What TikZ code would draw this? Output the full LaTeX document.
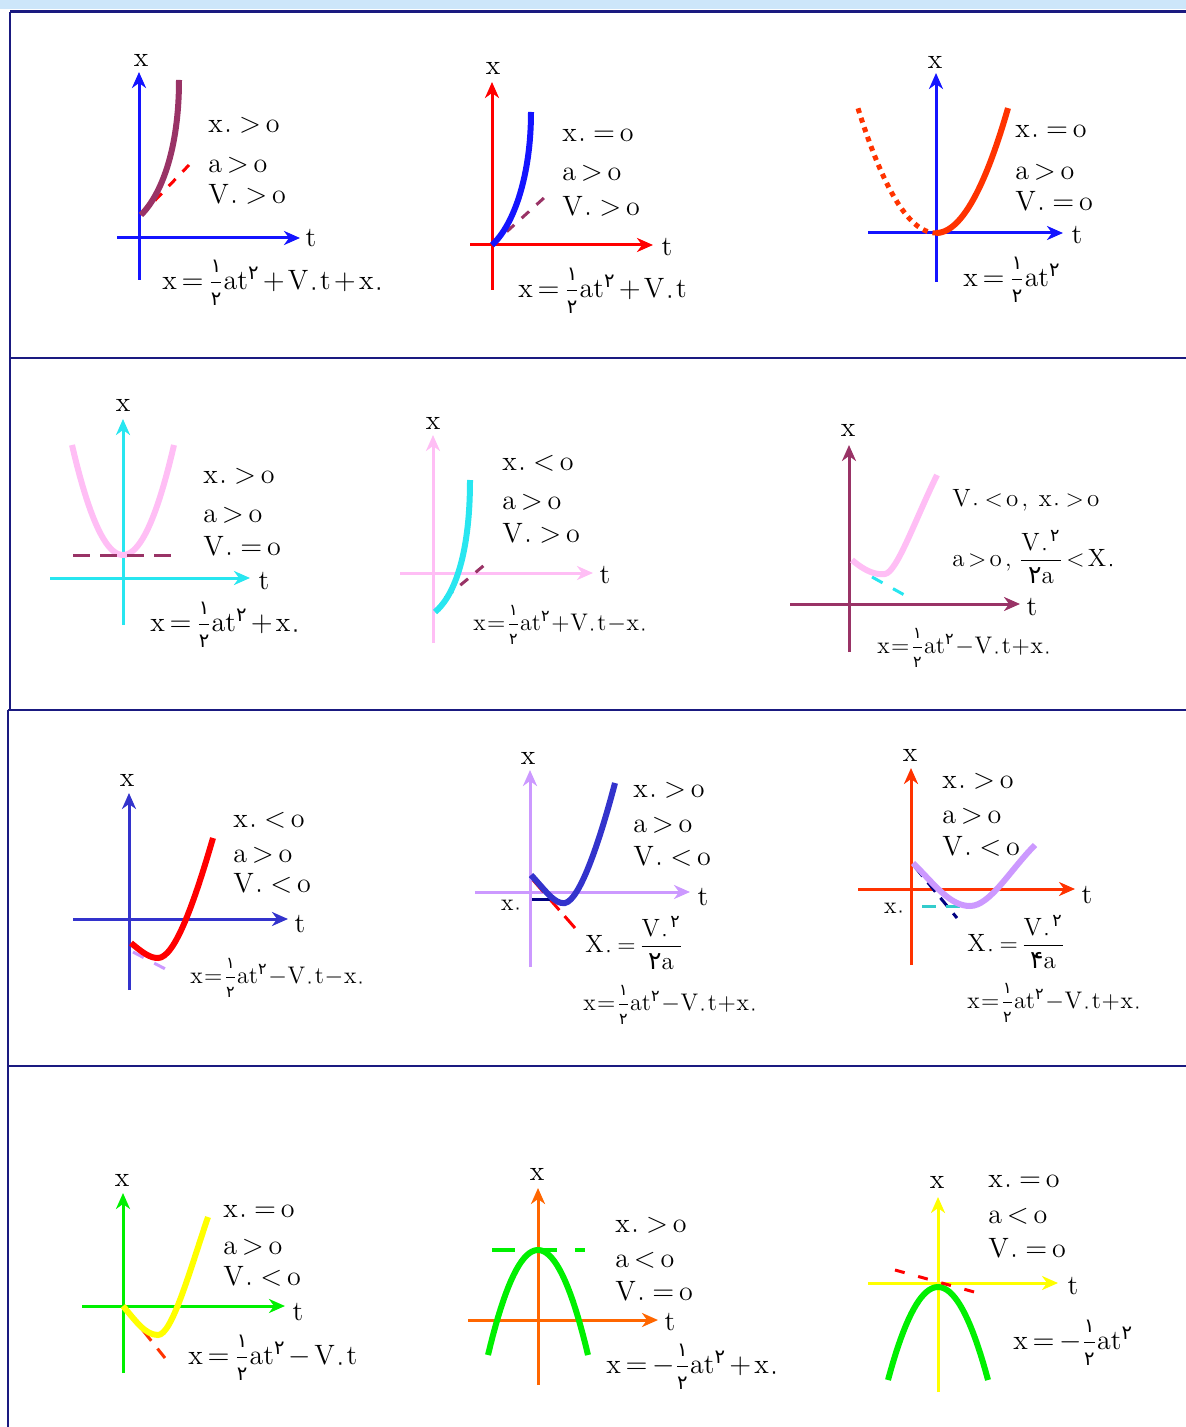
\documentclass[tikz,border=0pt]{standalone}
\usepackage{amsmath}
\usepackage{fontspec}
\usepackage{xcolor}
\usetikzlibrary{arrows.meta}

\newfontfamily\fa[Script=Arabic]{DejaVu Sans}
\newcommand\fd[1]{\text{\fa #1}}
\newcommand\hf{\frac{\text{\fa\raisebox{3pt}{۱}}}{\text{\fa\raisebox{-3pt}{۲}}}}
\newcommand\zs{_{\fd{۰}}}
\newcommand\sq{^{\fd{۲}}}
\protected\def\mspA{\thickmuskip=3mu\relax\medmuskip=2mu\relax}
\protected\def\mspB{\thickmuskip=2.5mu\relax\medmuskip=1.5mu\relax}
\protected\def\mspC{\thickmuskip=1mu\relax\medmuskip=0.5mu\relax}

\definecolor{frame}{RGB}{26,26,128}
\definecolor{band}{RGB}{205,230,250}
\definecolor{maroon}{RGB}{153,51,102}
\definecolor{pblue}{RGB}{20,20,255}
\definecolor{pred}{RGB}{255,0,0}
\definecolor{ored}{RGB}{255,51,0}
\definecolor{pcyan}{RGB}{40,230,240}
\definecolor{ppink}{RGB}{255,190,245}
\definecolor{indig}{RGB}{51,51,204}
\definecolor{lav}{RGB}{204,153,255}
\definecolor{pgreen}{RGB}{0,240,0}
\definecolor{pyell}{RGB}{255,255,0}
\definecolor{orng}{RGB}{255,102,0}
\definecolor{teal2}{RGB}{51,204,204}
\definecolor{navy2}{RGB}{0,0,128}

\begin{document}
\begin{tikzpicture}[
  x=0.5pt, y=-0.5pt,
  font=\fontsize{14}{16}\selectfont,
  ax/.style={line width=1.5pt, -{Stealth[length=8pt,width=7pt,inset=2.5pt]}},
  crv/.style={line width=3pt},
  tng/.style={line width=1.5pt, dash pattern=on 5pt off 5pt},
  lbl/.style={inner sep=0pt},
  cond/.style={anchor=west, inner sep=0pt, font=\fontsize{14}{16}\selectfont\mspA},
  scond/.style={anchor=west, inner sep=0pt, font=\fontsize{12.5}{15}\selectfont\mspB},
  eqn/.style={anchor=west, inner sep=0pt, font=\fontsize{14}{16}\selectfont\mspA},
  seqn/.style={anchor=west, inner sep=0pt, font=\fontsize{12}{14}\selectfont\mspC},
  rule/.style={draw=frame, line width=0.8pt},
]
\useasboundingbox (0,0) rectangle (1186,1427);

%% ---- Frame ----
\fill[band] (0,0) rectangle (1186,9);
\draw[frame, line width=1.5pt] (10,12) -- (1186,12);
\draw[rule] (10,12) -- (10,710);
\draw[rule] (8,710) -- (8,1427);
\draw[rule] (10,358) -- (1186,358);
\draw[rule] (8,710) -- (1186,710);
\draw[rule] (8,1066) -- (1186,1066);

%% ---- Graph 1 ----
\draw[ax, pblue] (117,238) -- (300,238);
\draw[ax, pblue] (139,280) -- (139,72);
\node[lbl] (g1x) at (141,60) {x};
\node[lbl] (g1t) at (311,238) {t};
\draw[tng, pred] (141,215) -- (189,165);
\draw[crv, maroon] (141,215) .. controls (161,195) and (179,150) .. (179,80);
\node[cond] (g1c1) at (208,127) {$\mathrm{x}\zs>\mathrm{o}$};
\node[cond] (g1c2) at (208,165) {$\mathrm{a}>\mathrm{o}$};
\node[cond] (g1c3) at (208,196) {$\mathrm{V}\zs>\mathrm{o}$};
\node[eqn] (g1eq) at (162,283)
  {$\mathrm{x}=\hf\mathrm{at}\sq+\mathrm{V}\zs\mathrm{t}+\mathrm{x}\zs$};

%% ---- Graph 2 ----
\draw[ax, pred] (470,245) -- (653,245);
\draw[ax, pred] (492,290) -- (492,82);
\node[lbl] (g2x) at (493,68) {x};
\node[lbl] (g2t) at (667,247) {t};
\draw[tng, maroon] (492,245) -- (545,197);
\draw[crv, pblue] (492,245) .. controls (514,225) and (531,175) .. (531,112);
\node[cond] (g2c1) at (562,137) {$\mathrm{x}\zs=\mathrm{o}$};
\node[cond] (g2c2) at (562,173) {$\mathrm{a}>\mathrm{o}$};
\node[cond] (g2c3) at (562,208) {$\mathrm{V}\zs>\mathrm{o}$};
\node[eqn] (g2eq) at (518,291)
  {$\mathrm{x}=\hf\mathrm{at}\sq+\mathrm{V}\zs\mathrm{t}$};

%% ---- Graph 3 ----
\draw[ax, pblue] (868,233) -- (1063,233);
\draw[ax, pblue] (936,282) -- (936,73);
\node[lbl] (g3x) at (935,62) {x};
\node[lbl] (g3t) at (1077,235) {t};
\draw[ored, line width=2.5pt, dash pattern=on 2.5pt off 2.5pt]
  plot[domain=-78:0, samples=40] ({936+\x},{233-0.0205*\x*\x});
\draw[crv, ored] plot[domain=0:72, samples=40] ({936+\x},{233-0.0241*\x*\x});
\node[cond] (g3c1) at (1015,133) {$\mathrm{x}\zs=\mathrm{o}$};
\node[cond] (g3c2) at (1015,172) {$\mathrm{a}>\mathrm{o}$};
\node[cond] (g3c3) at (1015,203) {$\mathrm{V}\zs=\mathrm{o}$};
\node[eqn] (g3eq) at (963,280) {$\mathrm{x}=\hf\mathrm{at}\sq$};

%% ---- Graph 4 ----
\draw[ax, pcyan] (50,578) -- (250,578);
\draw[ax, pcyan] (123,625) -- (123,419);
\node[lbl] (g4x) at (123,405) {x};
\node[lbl] (g4t) at (264,581) {t};
\draw[crv, ppink] plot[domain=-51:51, samples=40] ({123+\x},{555-0.0423*\x*\x});
\draw[maroon, line width=1.5pt, dash pattern=on 8.5pt off 5pt] (73,555) -- (175,555);
\node[cond] (g4c1) at (203,478) {$\mathrm{x}\zs>\mathrm{o}$};
\node[cond] (g4c2) at (203,515) {$\mathrm{a}>\mathrm{o}$};
\node[cond] (g4c3) at (203,548) {$\mathrm{V}\zs=\mathrm{o}$};
\node[eqn] (g4eq) at (150,625) {$\mathrm{x}=\hf\mathrm{at}\sq+\mathrm{x}\zs$};

%% ---- Graph 5 ----
\draw[ax, ppink] (400,573) -- (593,573);
\draw[ax, ppink] (433,643) -- (433,435);
\node[lbl] (g5x) at (433,423) {x};
\node[lbl] (g5t) at (605,575) {t};
\draw[tng, maroon] (445,598) -- (488,562);
\draw[crv, pcyan] (435,612) .. controls (452,598) and (470,560) .. (470,480);
\node[cond] (g5c1) at (502,465) {$\mathrm{x}\zs<\mathrm{o}$};
\node[cond] (g5c2) at (502,502) {$\mathrm{a}>\mathrm{o}$};
\node[cond] (g5c3) at (502,535) {$\mathrm{V}\zs>\mathrm{o}$};
\node[seqn] (g5eq) at (473,625)
  {$\mathrm{x}=\hf\mathrm{at}\sq+\mathrm{V}\zs\mathrm{t}-\mathrm{x}\zs$};

%% ---- Graph 6 ----
\draw[ax, maroon] (790,604) -- (1020,604);
\draw[ax, maroon] (849,652) -- (849,445);
\node[lbl] (g6x) at (848,430) {x};
\node[lbl] (g6t) at (1032,607) {t};
\draw[pcyan, line width=1.5pt, dash pattern=on 6pt off 6pt] (872,577) -- (908,597);
\draw[crv, ppink] (852,560) .. controls (866,572) and (876,575) .. (885,574)
  .. controls (897,572) and (915,520) .. (937,475);
\node[scond] (g6c1) at (952,500) {$\mathrm{V}\zs<\mathrm{o}\;,\;\;\mathrm{x}\zs>\mathrm{o}$};
\node[scond] (g6c2) at (952,557)
  {$\mathrm{a}>\mathrm{o}\;,\;\dfrac{\mathrm{V}\zs{}\sq}{\fd{۲}\mathrm{a}}<\mathrm{X}\zs$};
\node[seqn] (g6eq) at (877,648)
  {$\mathrm{x}=\hf\mathrm{at}\sq-\mathrm{V}\zs\mathrm{t}+\mathrm{x}\zs$};

%% ---- Graph 7 ----
\draw[ax, indig] (73,919) -- (288,919);
\draw[ax, indig] (129,990) -- (129,793);
\node[lbl] (g7x) at (127,780) {x};
\node[lbl] (g7t) at (300,924) {t};
\draw[lav, line width=1.5pt, dash pattern=on 6pt off 6pt] (133,952) -- (173,973);
\draw[crv, pred] (131,943) .. controls (143,953) and (150,958) .. (158,958)
  .. controls (175,958) and (195,900) .. (213,838);
\node[cond] (g7c1) at (233,822) {$\mathrm{x}\zs<\mathrm{o}$};
\node[cond] (g7c2) at (233,855) {$\mathrm{a}>\mathrm{o}$};
\node[cond] (g7c3) at (233,885) {$\mathrm{V}\zs<\mathrm{o}$};
\node[seqn] (g7eq) at (190,978)
  {$\mathrm{x}=\hf\mathrm{at}\sq-\mathrm{V}\zs\mathrm{t}-\mathrm{x}\zs$};

%% ---- Graph 8 ----
\draw[ax, lav] (475,892) -- (690,892);
\draw[ax, lav] (530,967) -- (530,770);
\node[lbl] (g8x) at (528,758) {x};
\node[lbl] (g8t) at (703,897) {t};
\draw[pred, line width=1.5pt, dash pattern=on 8pt off 4pt] (533,880) -- (575,928);
\draw[navy2, line width=1.5pt] (532,899) -- (550,899);
\draw[crv, indig] (531,875) .. controls (545,890) and (555,905) .. (565,903)
  .. controls (580,900) and (600,840) .. (615,783);
\node[lbl, font=\fontsize{12}{14}\selectfont] (g8x0) at (512,907) {$\mathrm{x}\zs$};
\node[cond] (g8c1) at (633,792) {$\mathrm{x}\zs>\mathrm{o}$};
\node[cond] (g8c2) at (633,825) {$\mathrm{a}>\mathrm{o}$};
\node[cond] (g8c3) at (633,858) {$\mathrm{V}\zs<\mathrm{o}$};
\node[scond] (g8v) at (585,943)
  {$\mathrm{X}\zs=\dfrac{\mathrm{V}\zs{}\sq}{\fd{۲}\mathrm{a}}$};
\node[seqn] (g8eq) at (583,1005)
  {$\mathrm{x}=\hf\mathrm{at}\sq-\mathrm{V}\zs\mathrm{t}+\mathrm{x}\zs$};

%% ---- Graph 9 ----
\draw[ax, ored] (858,889) -- (1075,889);
\draw[ax, ored] (911,965) -- (911,768);
\node[lbl] (g9x) at (910,755) {x};
\node[lbl] (g9t) at (1087,895) {t};
\draw[navy2, line width=1.5pt, dash pattern=on 6pt off 4pt] (915,867) -- (957,918);
\draw[teal2, line width=1.5pt, dash pattern=on 7pt off 5pt] (922,906) -- (965,906);
\draw[crv, lav] (913,863) .. controls (935,885) and (950,906) .. (970,906)
  .. controls (990,906) and (1010,870) .. (1035,845);
\node[lbl, font=\fontsize{12}{14}\selectfont] (g9x0) at (895,910) {$\mathrm{x}\zs$};
\node[cond] (g9c1) at (942,783) {$\mathrm{x}\zs>\mathrm{o}$};
\node[cond] (g9c2) at (942,816) {$\mathrm{a}>\mathrm{o}$};
\node[cond] (g9c3) at (942,848) {$\mathrm{V}\zs<\mathrm{o}$};
\node[scond] (g9v) at (967,942)
  {$\mathrm{X}\zs=\dfrac{\mathrm{V}\zs{}\sq}{\fd{۴}\mathrm{a}}$};
\node[seqn] (g9eq) at (967,1003)
  {$\mathrm{x}=\hf\mathrm{at}\sq-\mathrm{V}\zs\mathrm{t}+\mathrm{x}\zs$};

%% ---- Graph 10 ----
\draw[ax, pgreen] (82,1306) -- (285,1306);
\draw[ax, pgreen] (123,1373) -- (123,1193);
\node[lbl] (g10x) at (122,1180) {x};
\node[lbl] (g10t) at (298,1312) {t};
\draw[ored, line width=1.5pt, dash pattern=on 8pt off 5pt] (125,1308) -- (165,1358);
\draw[crv, pyell] (123,1306) .. controls (135,1320) and (145,1335) .. (158,1335)
  .. controls (172,1335) and (190,1270) .. (208,1217);
\node[cond] (g10c1) at (223,1213) {$\mathrm{x}\zs=\mathrm{o}$};
\node[cond] (g10c2) at (223,1247) {$\mathrm{a}>\mathrm{o}$};
\node[cond] (g10c3) at (223,1278) {$\mathrm{V}\zs<\mathrm{o}$};
\node[eqn] (g10eq) at (188,1358) {$\mathrm{x}=\hf\mathrm{at}\sq-\mathrm{V}\zs\mathrm{t}$};

%% ---- Graph 11 ----
\draw[ax, orng] (468,1320) -- (658,1320);
\draw[ax, orng] (538,1385) -- (538,1188);
\node[lbl] (g11x) at (537,1174) {x};
\node[lbl] (g11t) at (670,1322) {t};
\draw[pgreen, line width=2pt, dash pattern=on 11.5pt off 11.5pt on 9.5pt off 9pt on 5pt off 50pt]
  (492,1250) -- (586,1250);
\draw[crv, pgreen] plot[domain=-50:50, samples=40] ({538+\x},{1250+0.042*\x*\x});
\node[cond] (g11c1) at (615,1227) {$\mathrm{x}\zs>\mathrm{o}$};
\node[cond] (g11c2) at (615,1260) {$\mathrm{a}<\mathrm{o}$};
\node[cond] (g11c3) at (615,1293) {$\mathrm{V}\zs=\mathrm{o}$};
\node[eqn] (g11eq) at (606,1367) {$\mathrm{x}=-\hf\mathrm{at}\sq+\mathrm{x}\zs$};

%% ---- Graph 12 ----
\draw[ax, pyell] (868,1283) -- (1058,1283);
\draw[ax, pyell] (938,1392) -- (938,1197);
\node[lbl] (g12x) at (937,1182) {x};
\node[lbl] (g12t) at (1073,1286) {t};
\draw[crv, pgreen] plot[domain=-50:50, samples=40] ({938+\x},{1287+0.0372*\x*\x});
\draw[pred, line width=1.5pt, dash pattern=on 5pt off 7pt] (895,1270) -- (985,1295);
\node[cond] (g12c1) at (988,1183) {$\mathrm{x}\zs=\mathrm{o}$};
\node[cond] (g12c2) at (988,1216) {$\mathrm{a}<\mathrm{o}$};
\node[cond] (g12c3) at (988,1250) {$\mathrm{V}\zs=\mathrm{o}$};
\node[eqn] (g12eq) at (1013,1343) {$\mathrm{x}=-\hf\mathrm{at}\sq$};

\end{tikzpicture}
\end{document}
